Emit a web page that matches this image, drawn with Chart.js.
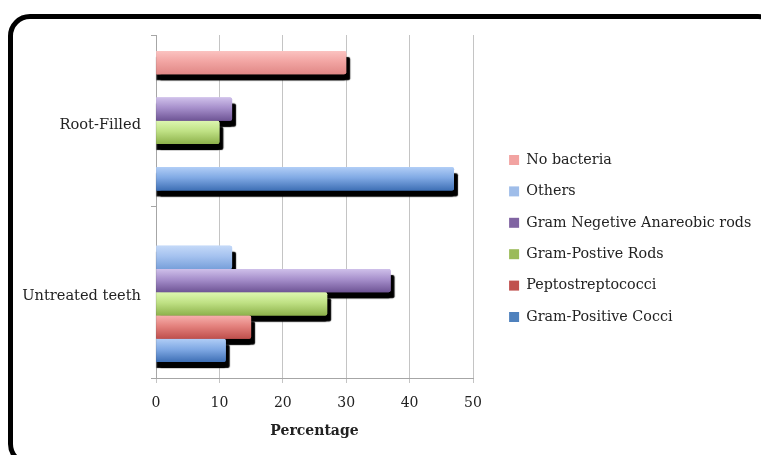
<!DOCTYPE html>
<html>
<head>
<meta charset="utf-8">
<script src="https://cdn.jsdelivr.net/npm/chart.js@4.4.1/dist/chart.umd.min.js"></script>
<style>
  html, body { margin: 0; padding: 0; background: #fff; overflow: hidden; }
  #wrap { position: relative; width: 761px; height: 455px; overflow: hidden; }
  #frame { position: absolute; left: 8px; top: 14px; width: 772px; height: 452px; box-sizing: border-box; border: 5px solid #000; border-radius: 22px; }
  canvas { position: absolute; left: 0; top: 0; }
</style>
</head>
<body>
<div id="wrap">
  <div id="frame"></div>
  <canvas id="chart" width="761" height="455"></canvas>
</div>
<script>
// data (top of each group first)
const categories = ['Root-Filled', 'Untreated teeth'];
const seriesNames = ['No bacteria', 'Others', 'Gram Negetive Anareobic rods', 'Gram-Postive Rods', 'Peptostreptococci', 'Gram-Positive Cocci'];
const noBacteria = [30, 0];
const others = [0, 12];
const gramNegRods = [12, 37];
const gramPosRods = [10, 27];
const peptostrep = [0, 15];
const gramPosCocci = [47, 11];
const xTicks = [0, 10, 20, 30, 40, 50];

// styles
const legendColors = ['#f2a3a1', '#9fbde9', '#8064a2', '#9bbb59', '#c0504d', '#4f81bd'];
const gradients = [
    ['#fbc3c1', '#f2a5a3', '#e08886'],
    ['#c4d9f8', '#a5c2ef', '#78a0da'],
    ['#cfc0ea', '#a68fcb', '#6e5495'],
    ['#ddf6b0', '#bfe184', '#8db14b'],
    ['#f7b0ad', '#e4827e', '#bf4f4c'],
    ['#b0cdf6', '#80a9e4', '#3e6fb5']
];
const font = 'DejaVu Serif';
const textColor = '#222';

const values = [noBacteria, others, gramNegRods, gramPosRods, peptostrep, gramPosCocci];

// gradient fill + black drop shadow under every bar
const barLook = {
    id: 'barLook',
    afterLayout(chart) {
        const lg = chart.legend;
        lg.left = 492;
        lg.right = 761;
        lg.width = lg.right - lg.left;
    },
    beforeDatasetsDraw(chart) {
        const ctx = chart.ctx;
        chart.data.datasets.forEach((ds, i) => {
            const stops = gradients[i];
            chart.getDatasetMeta(i).data.forEach(bar => {
                const top = bar.y - bar.height / 2;
                const g = ctx.createLinearGradient(0, top, 0, top + bar.height);
                g.addColorStop(0, stops[0]);
                g.addColorStop(0.45, stops[1]);
                g.addColorStop(1, stops[2]);
                bar.options = Object.assign({}, bar.options, { backgroundColor: g });
            });
        });

        // two shadow passes: one straight down, one down-right
        [[0, 6], [4, 6]].forEach(([dx, dy]) => {
            ctx.save();
            ctx.shadowColor = '#000';
            ctx.shadowOffsetX = dx;
            ctx.shadowOffsetY = dy;
            ctx.shadowBlur = 1;
            chart.data.datasets.forEach((ds, i) => {
                chart.getDatasetMeta(i).data.forEach(bar => {
                    if (Math.abs(bar.x - bar.base) < 1) return;
                    bar.draw(ctx);
                });
            });
            ctx.restore();
        });
    }
};

new Chart(document.getElementById('chart'), {
    type: 'bar',
    data: {
        labels: categories,
        datasets: seriesNames.map((name, i) => ({
            label: name,
            data: values[i],
            backgroundColor: legendColors[i],
            borderWidth: 0,
            borderRadius: 2,
            inflateAmount: 0,
            categoryPercentage: 0.814,
            barPercentage: 1
        }))
    },
    options: {
        indexAxis: 'y',
        responsive: false,
        animation: false,
        devicePixelRatio: 1,
        layout: { padding: { left: 0, top: 35, right: 38, bottom: 13 } },
        scales: {
            x: {
                min: 0,
                max: 50,
                afterFit(scale) { scale.height = 64; },
                afterBuildTicks(scale) { scale.ticks = xTicks.map(v => ({ value: v })); },
                ticks: { font: { family: font, size: 14 }, color: textColor, padding: 12 },
                grid: { color: '#c4c4c4', lineWidth: 1, tickLength: 5 },
                border: { color: '#a6a6a6' },
                title: {
                    display: true,
                    text: 'Percentage',
                    font: { family: font, size: 14, weight: 'bold' },
                    color: textColor,
                    padding: { top: 0, bottom: 2 }
                }
            },
            y: {
                afterFit(scale) { scale.width = 156; },
                ticks: { font: { family: font, size: 14.6 }, color: textColor, padding: 10, labelOffset: 4 },
                grid: { drawOnChartArea: false, tickLength: 5, color: '#a6a6a6' },
                border: { color: '#a6a6a6' }
            }
        },
        plugins: {
            legend: {
                position: 'right',
                maxWidth: 250,
                labels: {
                    font: { family: font, size: 14.3 },
                    color: textColor,
                    boxWidth: 10,
                    boxHeight: 10,
                    padding: 17.1
                }
            },
            tooltip: { enabled: false }
        }
    },
    plugins: [barLook]
});
</script>
</body>
</html>
